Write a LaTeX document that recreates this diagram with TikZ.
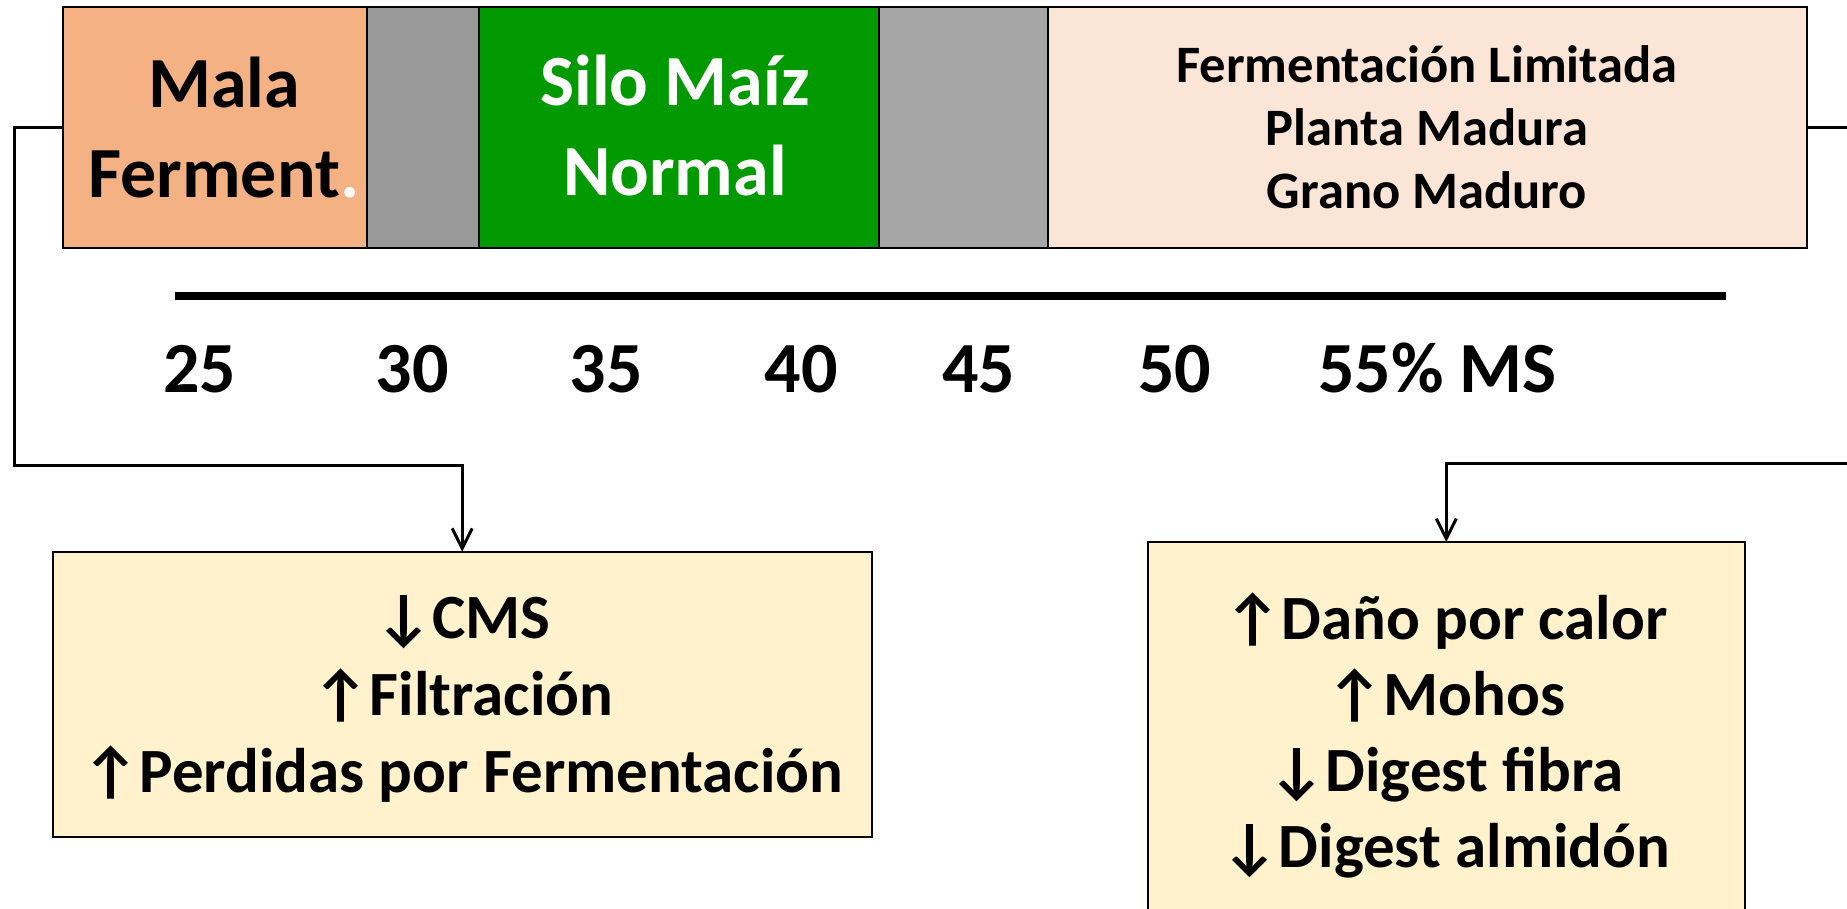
\documentclass[tikz,border=0pt]{standalone}
\usepackage{fontspec}
\setmainfont{Carlito}
\usetikzlibrary{arrows.meta}
\definecolor{malaC}{HTML}{F4B183}
\definecolor{grayA}{HTML}{999999}
\definecolor{grayB}{HTML}{A6A6A6}
\definecolor{greenC}{HTML}{009900}
\definecolor{peachC}{HTML}{FBE5D6}
\definecolor{yellowC}{HTML}{FFF2CC}
\begin{document}
\begin{tikzpicture}[x=1pt,y=-1pt,
  seg/.style={draw=black, line width=2pt, minimum height=240.4pt, inner sep=0pt, outer sep=0pt, anchor=north west},
  infobox/.style={draw=black, line width=2pt, fill=yellowC, inner sep=0pt, outer sep=0pt, anchor=north west},
  conn/.style={line width=3pt, -{Straight Barb[length=20pt,width=20pt]}},
  num/.style={font=\fontsize{72}{86}\selectfont\bfseries, anchor=base, inner sep=0pt},
  big/.style={font=\fontsize{72}{90}\selectfont\bfseries, align=center, inner sep=0pt},
  mid/.style={font=\fontsize{52.6}{63}\selectfont\bfseries, align=center, inner sep=0pt},
  eff/.style={font=\fontsize{63}{77}\selectfont\bfseries, align=center, inner sep=0pt}]
\useasboundingbox (0,0) rectangle (1847,909);
\clip (0,0) rectangle (1847,909);
\fill[white] (0,0) rectangle (1847,909);
% bar segments
\node[seg, fill=malaC, minimum width=304pt] (mala) at (62.8,7.3) {};
\node[seg, fill=grayA, minimum width=112.1pt] (g1) at (366.8,7.3) {};
\node[seg, fill=greenC, minimum width=399.6pt] (green) at (478.9,7.3) {};
\node[seg, fill=grayB, minimum width=169.5pt] (g2) at (878.5,7.3) {};
\node[seg, fill=peachC, minimum width=759pt] (light) at (1048,7.3) {};
% bar texts
\node[big] (tmala) at (224,128) {Mala\\Ferment\textcolor{white}{.}};
\node[big, text=white] (tsilo) at (675,126) {Silo Maíz\\Normal};
\node[mid] (tlight) at (1427,127) {Fermentación Limitada\\Planta Madura\\Grano Maduro};
% axis
\coordinate (ax1) at (175,295.7);
\coordinate (ax2) at (1726,295.7);
\draw[line width=8pt] (ax1) -- (ax2);
\node[num] (n25) at (199.5,392) {25};
\node[num] (n30) at (412,392) {30};
\node[num] (n35) at (606,392) {35};
\node[num] (n40) at (801,392) {40};
\node[num] (n45) at (978.5,392) {45};
\node[num] (n50) at (1174.5,392) {50};
\node[num] (n55) at (1437.5,392) {55\% MS};
% effect boxes
\node[infobox, minimum width=818.7pt, minimum height=285pt] (lbox) at (52.8,551.7) {};
\node[infobox, minimum width=597.4pt, minimum height=420pt] (rbox) at (1147.6,542) {};
\node[eff] (tleft) at (463,699) {↓CMS\\↑Filtración\\↑Perdidas por Fermentación};
\node[eff, font=\fontsize{63}{76}\selectfont\bfseries] (tright) at (1446,735) {↑Daño por calor\\↑Mohos\\↓Digest fibra\\↓Digest almidón};
% connectors
\coordinate (l1) at (14.7,465);
\coordinate (r1) at (1875,463);
\draw[conn] (mala.west) -| (l1) -| (lbox.north);
\draw[conn] (light.east) -| (r1) -| (rbox.north);
\end{tikzpicture}
\end{document}
